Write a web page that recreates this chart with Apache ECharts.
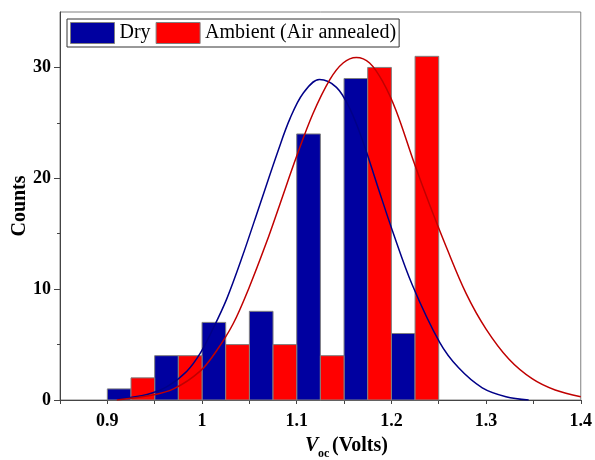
<!DOCTYPE html>
<html>
<head>
<meta charset="utf-8">
<script src="https://cdn.jsdelivr.net/npm/echarts@6/dist/echarts.min.js"></script>
<style>
  html, body { margin: 0; padding: 0; background: #fff; }
  #chart { width: 595px; height: 460px; }
</style>
</head>
<body>
<div id="chart"></div>
<script>
// Histogram bins (left edge, right edge) and counts
const dryBinStart = [0.900, 0.950, 1.000, 1.050, 1.100, 1.150, 1.200];
const dryBinEnd   = [0.925, 0.975, 1.025, 1.075, 1.125, 1.175, 1.225];
const dryCounts   = [1, 4, 7, 8, 24, 29, 6];

const ambBinStart = [0.925, 0.975, 1.025, 1.075, 1.125, 1.175, 1.225];
const ambBinEnd   = [0.950, 1.000, 1.050, 1.100, 1.150, 1.200, 1.250];
const ambCounts   = [2, 4, 5, 5, 4, 30, 31];

// Distribution fit curves
const dryFitX = [0.912, 0.942, 0.963, 0.984, 0.998, 1.012, 1.026, 1.042, 1.061, 1.080, 1.093, 1.107, 1.124, 1.142, 1.156, 1.170, 1.185, 1.201, 1.222, 1.251, 1.271, 1.296, 1.321, 1.345];
const dryFitY = [0.1, 0.5, 1.2, 2.6, 4.2, 6.5, 9.1, 12.8, 17.6, 22.4, 25.4, 27.7, 28.9, 28.2, 26.3, 23.3, 19.4, 15.3, 10.4, 5.2, 2.9, 1.1, 0.3, 0.0];

const ambFitX = [0.910, 0.945, 0.970, 0.998, 1.015, 1.033, 1.050, 1.068, 1.082, 1.100, 1.117, 1.135, 1.149, 1.163, 1.177, 1.191, 1.205, 1.224, 1.240, 1.258, 1.279, 1.300, 1.324, 1.349, 1.373, 1.400];
const ambFitY = [0.0, 0.4, 1.0, 2.6, 4.4, 6.9, 10.2, 14.2, 17.6, 22.0, 25.8, 28.9, 30.4, 30.9, 30.4, 28.7, 26.1, 21.4, 17.7, 13.8, 9.6, 6.4, 3.7, 1.9, 0.9, 0.3];

// Axis ticks and labels
const xTickValues  = [0.85, 0.90, 0.95, 1.00, 1.05, 1.10, 1.15, 1.20, 1.25, 1.30, 1.35, 1.40];
const xTickLabels  = [0.9, 1.0, 1.1, 1.2, 1.3, 1.4];
const yTickLabels  = [0, 10, 20, 30];
const yMinorTicks  = [5, 15, 25];

const SERIF = 'Liberation Serif, Times New Roman, serif';
const DRY_COLOR = '#0000A0';
const AMB_COLOR = '#FF0000';

function zipBins(starts, ends, counts) {
  return counts.map((c, i) => [starts[i], ends[i], c]);
}
function zipXY(xs, ys) {
  return xs.map((x, i) => [x, ys[i]]);
}

function binRenderer(color) {
  return function (params, api) {
    const topLeft = api.coord([api.value(0), api.value(2)]);
    const bottomRight = api.coord([api.value(1), 0]);
    return {
      type: 'rect',
      shape: {
        x: topLeft[0],
        y: topLeft[1],
        width: bottomRight[0] - topLeft[0],
        height: bottomRight[1] - topLeft[1]
      },
      style: { fill: color, stroke: '#808080', lineWidth: 1 }
    };
  };
}

const gridBox = { left: 60, right: 13, top: 12, height: 388 };

const chart = echarts.init(document.getElementById('chart'), null, { renderer: 'canvas' });

chart.setOption({
  animation: false,
  backgroundColor: '#fff',
  grid: [
    Object.assign({ show: true, borderColor: '#808080', borderWidth: 1, backgroundColor: 'transparent' }, gridBox),
    Object.assign({ show: false }, gridBox)
  ],
  legend: {
    left: 67,
    top: 19,
    data: ['Dry', 'Ambient (Air annealed)'],
    icon: 'rect',
    itemWidth: 44,
    itemHeight: 21,
    itemGap: 5,
    padding: [3, 3, 3, 3],
    borderColor: '#333',
    borderWidth: 1,
    backgroundColor: '#fff',
    selectedMode: false,
    itemStyle: { borderColor: '#808080', borderWidth: 1 },
    textStyle: { fontFamily: SERIF, fontSize: 20, color: '#000' }
  },
  xAxis: [
    {
      type: 'value',
      gridIndex: 0,
      min: 0.85,
      max: 1.4,
      axisLine: { show: true, onZero: false, lineStyle: { color: '#444', width: 1 } },
      axisTick: { show: true, inside: false, length: 4, customValues: xTickValues, lineStyle: { color: '#444' } },
      axisLabel: {
        customValues: xTickLabels,
        margin: 12,
        fontFamily: SERIF,
        fontSize: 18,
        fontWeight: 'bold',
        color: '#000',
        formatter: v => String(+(+v).toFixed(2))
      },
      splitLine: { show: false }
    },
    {
      type: 'value',
      gridIndex: 1,
      min: 0.85,
      max: 1.4,
      show: false
    }
  ],
  yAxis: [
    {
      type: 'value',
      gridIndex: 0,
      min: 0,
      max: 35,
      axisLine: { show: true, lineStyle: { color: '#444', width: 1 } },
      axisTick: { show: true, inside: false, length: 6, customValues: yTickLabels, lineStyle: { color: '#444' } },
      axisLabel: {
        customValues: yTickLabels,
        margin: 9,
        fontFamily: SERIF,
        fontSize: 18,
        fontWeight: 'bold',
        color: '#000'
      },
      splitLine: { show: false }
    },
    {
      type: 'value',
      gridIndex: 1,
      min: 0,
      max: 35,
      position: 'left',
      axisLine: { show: false },
      axisTick: { show: true, inside: false, length: 3, customValues: yMinorTicks, lineStyle: { color: '#444' } },
      axisLabel: { show: false },
      splitLine: { show: false }
    }
  ],
  series: [
    {
      name: 'Dry',
      type: 'custom',
      xAxisIndex: 0,
      yAxisIndex: 0,
      itemStyle: { color: DRY_COLOR },
      encode: { x: [0, 1], y: 2 },
      renderItem: binRenderer(DRY_COLOR),
      data: zipBins(dryBinStart, dryBinEnd, dryCounts),
      z: 2
    },
    {
      name: 'Ambient (Air annealed)',
      type: 'custom',
      xAxisIndex: 0,
      yAxisIndex: 0,
      itemStyle: { color: AMB_COLOR },
      encode: { x: [0, 1], y: 2 },
      renderItem: binRenderer(AMB_COLOR),
      data: zipBins(ambBinStart, ambBinEnd, ambCounts),
      z: 2
    },
    {
      name: 'Dry fit',
      type: 'line',
      xAxisIndex: 0,
      yAxisIndex: 0,
      data: zipXY(dryFitX, dryFitY),
      smooth: 0.35,
      showSymbol: false,
      lineStyle: { color: '#000088', width: 1.5 },
      itemStyle: { color: '#000088' },
      z: 4
    },
    {
      name: 'Ambient fit',
      type: 'line',
      xAxisIndex: 0,
      yAxisIndex: 0,
      data: zipXY(ambFitX, ambFitY),
      smooth: 0.35,
      showSymbol: false,
      lineStyle: { color: '#C00000', width: 1.5 },
      itemStyle: { color: '#C00000' },
      z: 4
    }
  ],
  graphic: [
    {
      type: 'text',
      x: 20,
      y: 206,
      rotation: Math.PI / 2,
      style: {
        text: 'Counts',
        font: 'bold 20px ' + SERIF,
        fill: '#000',
        align: 'center',
        verticalAlign: 'middle'
      }
    },
    {
      type: 'text',
      x: 305,
      y: 446,
      style: { text: 'V', font: 'italic bold 20px ' + SERIF, fill: '#000', align: 'left', verticalAlign: 'middle' }
    },
    {
      type: 'text',
      x: 318,
      y: 454,
      style: { text: 'oc', font: 'bold 12px ' + SERIF, fill: '#000', align: 'left', verticalAlign: 'middle' }
    },
    {
      type: 'text',
      x: 332,
      y: 446,
      style: { text: '(Volts)', font: 'bold 20px ' + SERIF, fill: '#000', align: 'left', verticalAlign: 'middle' }
    }
  ]
});
</script>
</body>
</html>
